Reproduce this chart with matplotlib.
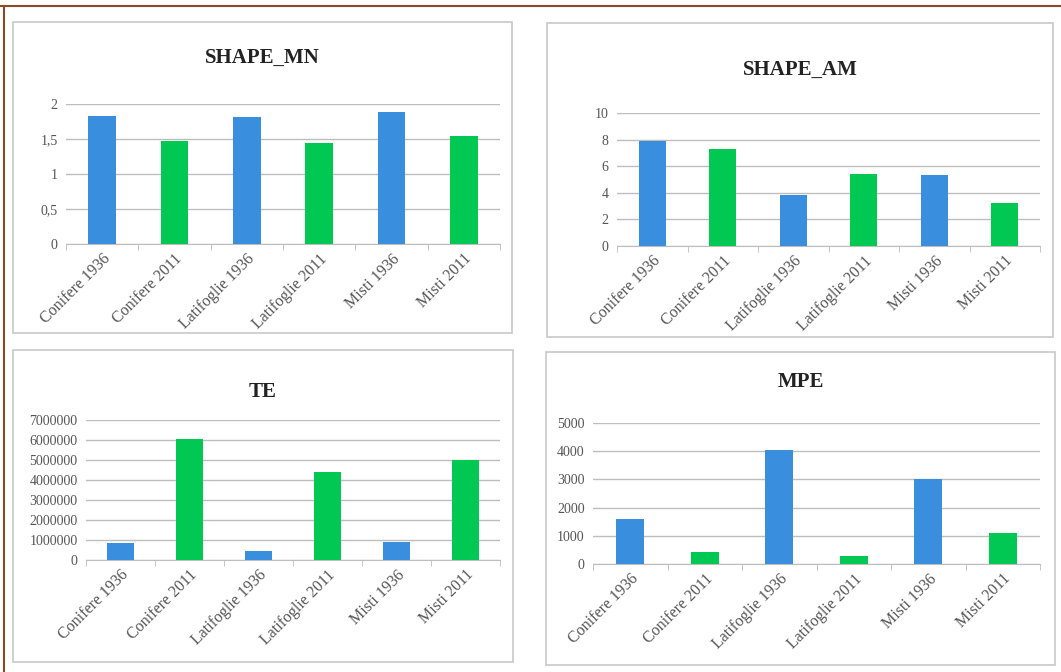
import matplotlib.pyplot as plt
from matplotlib.patches import Rectangle
from matplotlib.lines import Line2D
from matplotlib.ticker import FuncFormatter

categories = ['Conifere 1936', 'Conifere 2011', 'Latifoglie 1936',
              'Latifoglie 2011', 'Misti 1936', 'Misti 2011']
shape_mn = [1.83, 1.47, 1.82, 1.45, 1.88, 1.54]
shape_am = [7.86, 7.31, 3.84, 5.43, 5.35, 3.22]
te = [870000, 6030000, 450000, 4420000, 880000, 5000000]
mpe = [1580, 435, 4030, 283, 3000, 1086]

BLUE = '#3a8ede'
GREEN = '#00c853'
bar_colors = [BLUE, GREEN] * 3

W, H = 1061, 672
fig = plt.figure(figsize=(W / 100, H / 100), dpi=100)
plt.rcParams['font.family'] = 'Liberation Serif'


def px_box(l, t, r, b):
    return [l / W, 1 - b / H, (r - l) / W, (b - t) / H]


# outer brown border
fig.add_artist(Line2D([0, 1], [1 - 6 / H, 1 - 6 / H], color='#8b4a2b', lw=1.5))
fig.add_artist(Line2D([4 / W, 4 / W], [0, 1 - 6 / H], color='#8b4a2b', lw=1.5))

panels = [
    dict(title='SHAPE_MN', data=shape_mn, frame=(13, 22, 512, 333),
         ax=(66, 104, 500, 244), ty=58, ylim=2, yt=[0, 0.5, 1, 1.5, 2]),
    dict(title='SHAPE_AM', data=shape_am, frame=(547, 23, 1053, 337),
         ax=(617, 113, 1040, 246), ty=70, ylim=10, yt=[0, 2, 4, 6, 8, 10]),
    dict(title='TE', data=te, frame=(13, 350, 513, 662),
         ax=(86, 420, 500, 560), ty=392, ylim=7000000,
         yt=list(range(0, 7000001, 1000000))),
    dict(title='MPE', data=mpe, frame=(546, 352, 1055, 665),
         ax=(593, 423, 1040, 564), ty=382, ylim=5000,
         yt=[0, 1000, 2000, 3000, 4000, 5000]),
]


def fmt(v, pos):
    if v == int(v):
        return str(int(v))
    return ('%g' % v).replace('.', ',')


for p in panels:
    l, t, r, b = p['frame']
    fig.add_artist(Rectangle((l / W, 1 - b / H), (r - l) / W, (b - t) / H,
                             transform=fig.transFigure, fill=False,
                             edgecolor='#c8c8c8', lw=1.2))
    fig.text((l + r) / 2 / W, 1 - p['ty'] / H, p['title'], ha='center',
             va='center', fontsize=15, fontweight='bold', color='#222222')

    ax = fig.add_axes(px_box(*p['ax']))
    x = range(len(categories))
    ax.bar(x, p['data'], width=0.38, color=bar_colors, zorder=3)
    ax.set_xlim(-0.5, len(categories) - 0.5)
    ax.set_ylim(0, p['ylim'])
    ax.set_yticks(p['yt'])
    ax.yaxis.set_major_formatter(FuncFormatter(fmt))
    ax.yaxis.grid(True, color='#bdbdbd', lw=1, zorder=0)
    for s in ['top', 'right', 'left']:
        ax.spines[s].set_visible(False)
    ax.spines['bottom'].set_color('#bdbdbd')
    ax.tick_params(axis='y', length=0, labelsize=10, colors='#555555', pad=6)
    ax.set_xticks(list(x))
    ax.set_xticklabels(categories, rotation=45, ha='right',
                       rotation_mode='anchor', fontsize=11.5, color='#555555')
    ax.tick_params(axis='x', length=0, pad=5)
    # small category separator ticks like the original
    ax.set_xticks([i + 0.5 for i in range(-1, len(categories))], minor=True)
    ax.tick_params(axis='x', which='minor', length=4, color='#bdbdbd')

fig.savefig('out.png', dpi=100)
